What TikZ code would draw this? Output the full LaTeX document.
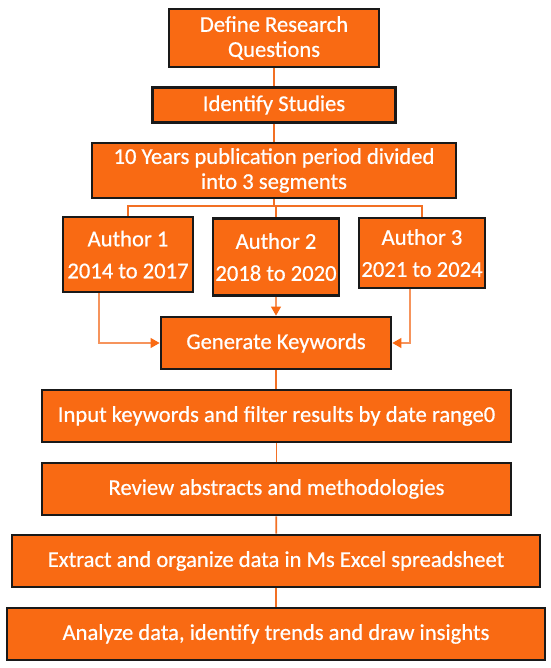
\documentclass[tikz,border=0pt]{standalone}
\usepackage{fontspec}
\setmainfont{Carlito}[FakeBold=0.6]
\usetikzlibrary{arrows.meta}
\definecolor{boxOrange}{RGB}{249,106,19}
\definecolor{lineOrange}{RGB}{242,112,36}
\definecolor{branchOrange}{RGB}{246,148,92}
\tikzset{
  stepbox/.style={draw=black!90, line width=2.8pt, fill=boxOrange, text=white, align=center, inner sep=0pt, font=\fontsize{22.6}{25}\selectfont},
  authorbox/.style={stepbox, font=\fontsize{22.6}{32}\selectfont},
  link/.style={draw=lineOrange, line width=1.8pt},
  bus/.style={draw=lineOrange, line width=1.4pt},
  branchflow/.style={draw=branchOrange, line width=1.1pt, -{Triangle[length=9pt, width=10pt, color=boxOrange, fill=boxOrange]}}
}
\begin{document}
\begin{tikzpicture}[x=1pt, y=-1pt]
    \useasboundingbox (0,0) rectangle (550,668);
    \node[stepbox, minimum width=210pt, minimum height=58pt] (q) at (274,38) {Define Research\\Questions};
    \node[stepbox, minimum width=243pt, minimum height=35pt] (s) at (274,105) {Identify Studies};
    \node[stepbox, minimum width=364pt, minimum height=55pt] (p) at (274,170.5) {10 Years publication period divided\\into 3 segments};
    \node[authorbox, minimum width=130pt, minimum height=75pt] (a1) at (128,254.5) {Author 1\\2014 to 2017};
    \node[authorbox, minimum width=126pt, minimum height=77pt] (a2) at (276,257) {Author 2\\2018 to 2020};
    \node[authorbox, minimum width=126pt, minimum height=70pt] (a3) at (422,253) {Author 3\\2021 to 2024};
    \node[stepbox, minimum width=230pt, minimum height=52pt] (k) at (276,343) {Generate Keywords};
    \node[stepbox, minimum width=469pt, minimum height=52pt] (i) at (276.5,416) {Input keywords and filter results by date range0};
    \node[stepbox, minimum width=469pt, minimum height=52pt] (r) at (276.5,489) {Review abstracts and methodologies};
    \node[stepbox, minimum width=528pt, minimum height=52pt] (e) at (276,561) {Extract and organize data in Ms Excel spreadsheet};
    \node[stepbox, minimum width=538pt, minimum height=52pt] (n) at (276,634) {Analyze data, identify trends and draw insights};
    \coordinate (split) at (274,206);
    % main line
    \draw[link] (q) -- (s);
    \draw[link] (s) -- (p);
    \draw[bus] (p) -- (split);
    \draw[bus] (a1.north) |- (split) -| (a3.north);
    \draw[bus] (split) -| (a2.north);
    % authors to keywords
    \draw[branchflow] ([xshift=-29pt]a1.south) |- (k.west);
    \draw[branchflow] (a2) -- (k);
    \draw[branchflow] ([xshift=-12pt]a3.south) |- (k.east);
    \draw[link] (k) -- (k |- i.north);
    \draw[link] (i) -- (r);
    \draw[link] (r) -- (e);
    \draw[link] (e) -- (n);
\end{tikzpicture}
\end{document}
